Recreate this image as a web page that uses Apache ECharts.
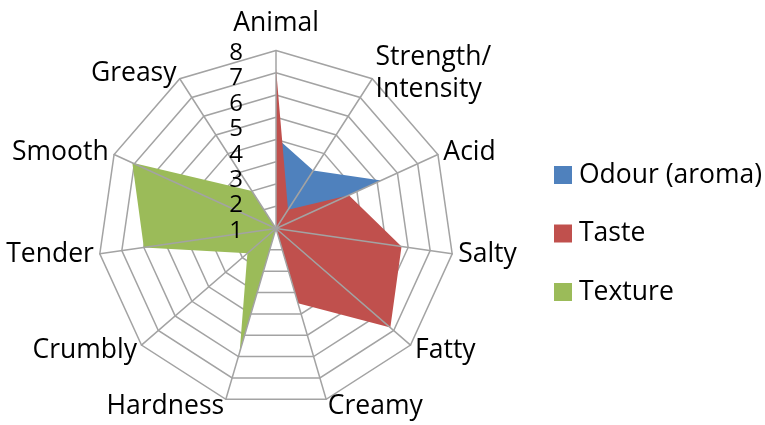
<!DOCTYPE html>
<html><head><meta charset="utf-8">
<script src="https://cdn.jsdelivr.net/npm/echarts@6/dist/echarts.min.js"></script>
<style>html,body{margin:0;padding:0;background:#fff}#c{width:765px;height:425px}</style>
</head><body><div id="c"></div>
<script>
// Categories in clockwise order starting at the top
const categories = ['Animal','Strength/\nIntensity','Acid','Salty','Fatty','Creamy','Hardness','Crumbly','Tender','Smooth','Greasy'];
const odour   = [4.1, 3.1, 5.2, 0, 0, 0, 0, 0, 0, 0, 0];
const taste   = [7.2, 1.0, 3.6, 5.7, 6.8, 3.5, 0, 0, 0, 0, 0];
const texture = [0, 0, 0, 0, 0, 0, 5.8, 1.7, 6.0, 7.1, 2.0];
const seriesNames = ['Odour (aroma)', 'Taste', 'Texture'];
const tickLabels = ['1','2','3','4','5','6','7','8'];
const axisMax = 8;

const colors = ['#4F81BD', '#C0504D', '#9BBB59'];
const FONT = 'Open Sans';
// ECharts places radar indicators counter-clockwise; reorder to get clockwise
const order = [0].concat(categories.map((_, i) => i).slice(1).reverse());
const reord = arr => order.map(i => arr[i]);
const indicators = reord(categories).map(n => ({ name: n, min: 0, max: axisMax }));
const seriesData = [odour, taste, texture];

const chart = echarts.init(document.getElementById('c'), null, { renderer: 'canvas' });
const gridColor = '#a3a3a3';
chart.setOption({
  backgroundColor: '#ffffff',
  animation: false,
  color: colors,
  legend: {
    orient: 'vertical',
    left: 549, top: 155,
    itemWidth: 18, itemHeight: 18, itemGap: 28.5,
    icon: 'rect',
    data: seriesNames,
    textStyle: { fontFamily: FONT, fontSize: 26.5, color: '#000', lineHeight: 30, padding: [0, 0, 0, 2] }
  },
  radar: [{
    center: [276, 228.5],
    radius: 178,
    startAngle: 90,
    splitNumber: 8,
    shape: 'polygon',
    indicator: indicators,
    axisName: {
      color: '#000', fontFamily: FONT, fontSize: 26.5, lineHeight: 32,
      formatter: n => n === categories[0] ? '{top|' + n + '}' : (n === categories[5] || n === categories[6] || n === categories[4] || n === categories[7]) ? '{low|' + n + '}' : n,
      rich: {
        top: { fontFamily: FONT, fontSize: 26.5, lineHeight: 32, color: '#000', padding: [0, 0, 11, 0] },
        low: { fontFamily: FONT, fontSize: 26.5, lineHeight: 32, color: '#000', padding: [3, 0, 0, 0] }
      }
    },
    nameGap: 6,
    splitLine: { lineStyle: { color: gridColor, width: 1.5 } },
    splitArea: { show: false },
    axisLine: { show: false },
    axisTick: { show: false },
    axisLabel: { show: false }
  }, {
    center: [276, 228.5],
    radius: 178,
    startAngle: 90,
    splitNumber: 8,
    shape: 'polygon',
    indicator: indicators,
    z: 5,
    axisName: { show: false },
    splitLine: { show: false },
    splitArea: { show: false },
    axisLine: { lineStyle: { color: gridColor, width: 1.5 } },
    axisTick: { show: false },
    axisLabel: { show: false }
  }],
  grid: { left: 247, top: 53, width: 10, height: 178, z: 10 },
  xAxis: { show: false, type: 'value' },
  yAxis: {
    type: 'category', data: tickLabels, boundaryGap: false, z: 10,
    axisLine: { show: false }, axisTick: { show: false }, splitLine: { show: false },
    axisLabel: { fontFamily: FONT, fontSize: 24, color: '#000', margin: 4, interval: 0 }
  },
  series: seriesNames.map((name, k) => ({
    name: name,
    type: 'radar',
    radarIndex: 0,
    symbol: 'none',
    z: 2 + k * 0.01,
    lineStyle: { width: 0, color: colors[k] },
    areaStyle: { color: colors[k], opacity: 1 },
    data: [{ value: reord(seriesData[k]), name: name }]
  }))
});
</script></body></html>
